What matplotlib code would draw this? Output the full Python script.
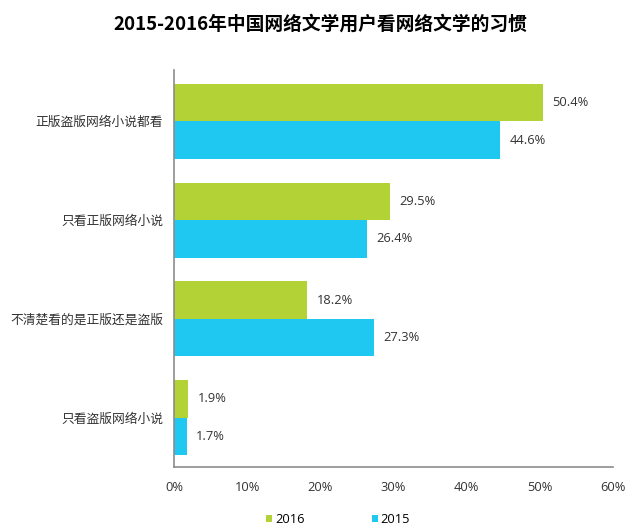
import matplotlib.pyplot as plt
import numpy as np

plt.rcParams['font.family'] = ['Open Sans', 'Noto Sans CJK SC', 'DejaVu Sans']

categories = ['正版盗版网络小说都看', '只看正版网络小说', '不清楚看的是正版还是盗版', '只看盗版网络小说']
v2016 = [50.4, 29.5, 18.2, 1.9]
v2015 = [44.6, 26.4, 27.3, 1.7]
xticks = [0, 10, 20, 30, 40, 50, 60]

green = '#B3D236'
blue = '#1FC8F0'

fig = plt.figure(figsize=(6.4, 5.3), dpi=100)
ax = fig.add_axes([0.272, 0.119, 0.686, 0.749])

y = np.arange(len(categories))
h = 0.38
b1 = ax.barh(y - h / 2, v2016, height=h, color=green, label='2016')
b2 = ax.barh(y + h / 2, v2015, height=h, color=blue, label='2015')

for bars, vals in [(b1, v2016), (b2, v2015)]:
    for r, v in zip(bars, vals):
        ax.text(v + 1.3, r.get_y() + r.get_height() / 2, f'{v:.1f}%',
                va='center', ha='left', fontsize=9.3, color='#333333')

ax.set_ylim(3.5, -0.52)
ax.set_xlim(0, 60)
ax.set_yticks(y)
ax.set_yticklabels(categories, family=['Noto Sans CJK SC', 'DejaVu Sans'],
                   fontsize=9.2, color='#333333')
ax.set_xticks(xticks)
ax.set_xticklabels([f'{t}%' for t in xticks], fontsize=9.3, color='#333333')
ax.tick_params(length=0)
ax.tick_params(axis='x', pad=10)
ax.tick_params(axis='y', pad=8)
for s in ['top', 'right']:
    ax.spines[s].set_visible(False)
for s in ['left', 'bottom']:
    ax.spines[s].set_color('#8c8c8c')
    ax.spines[s].set_linewidth(1.2)

fig.text(0.5, 0.955, '2015-2016年中国网络文学用户看网络文学的习惯',
         family=['Noto Sans CJK SC', 'DejaVu Sans'],
         ha='center', va='center', fontsize=13.5, fontweight='bold')

fig.legend(handles=[b1, b2], labels=['2016', '2015'], loc='center',
           bbox_to_anchor=(0.528, 0.02), ncol=2, frameon=False, fontsize=9.3,
           handlelength=0.5, handleheight=0.5, handletextpad=0.2, columnspacing=5.2)

fig.savefig('out.png', dpi=100)
